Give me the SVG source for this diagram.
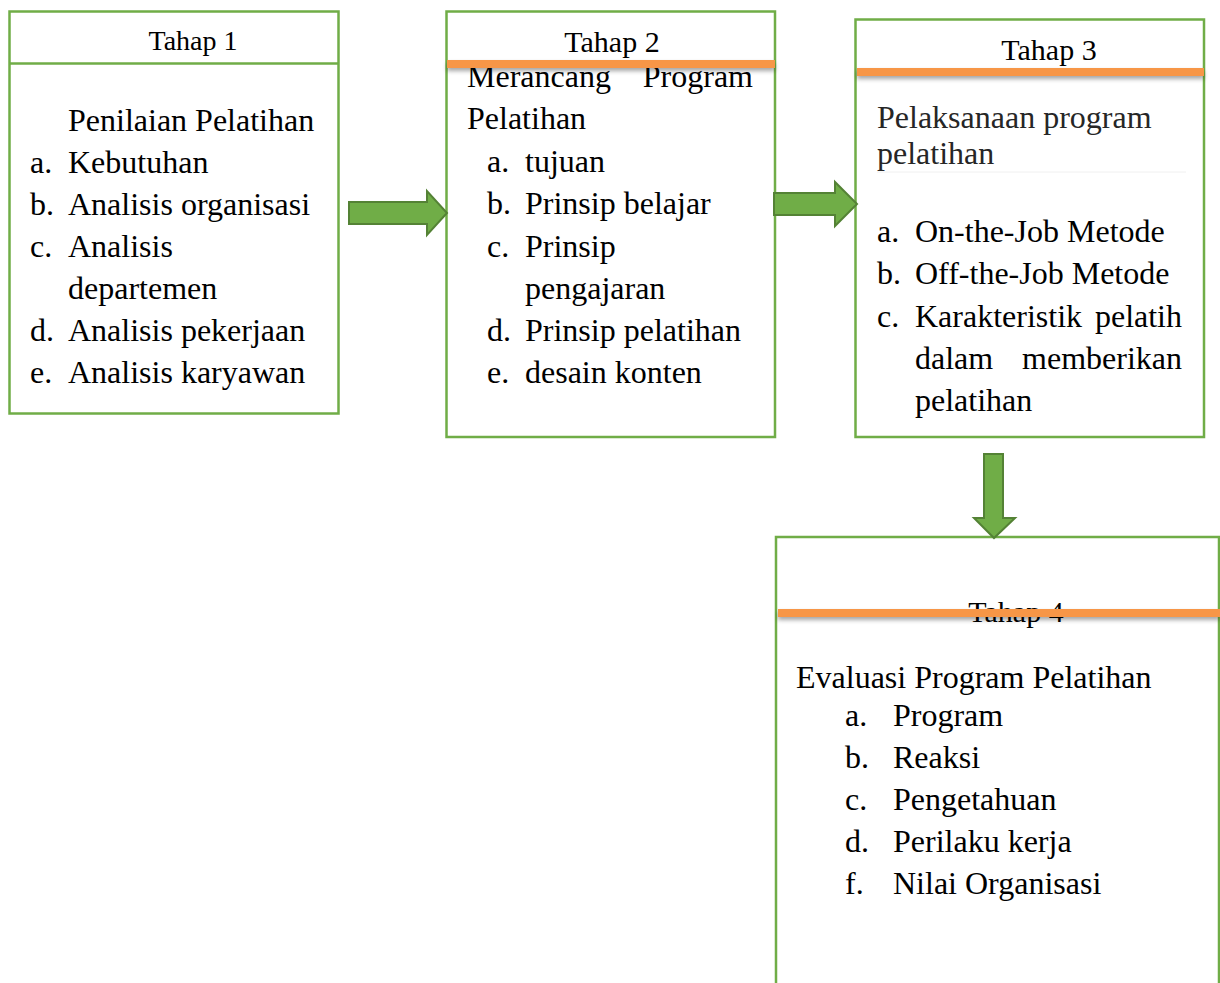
<svg xmlns="http://www.w3.org/2000/svg" width="1220" height="983" viewBox="0 0 1220 983">
<style>
.box{fill:#fff;stroke:#70AD47;stroke-width:2.5}
.hdr{stroke:#70AD47;stroke-width:2.5}
.bar{fill:#F79646}
.t{font-family:"Liberation Serif","Times New Roman",serif;font-size:32px;fill:#000}
.ttl{font-family:"Liberation Serif","Times New Roman",serif;font-size:30px;fill:#000;text-anchor:middle}
.gray{fill:#262626}
.arr{fill:#70AD47;stroke:#548235;stroke-width:2;stroke-linejoin:miter}
</style>
<defs>
<filter id="sh" x="-5%" y="-100%" width="110%" height="400%">
<feDropShadow dx="0" dy="3" stdDeviation="2" flood-color="#000" flood-opacity="0.35"/>
</filter>
</defs>
<rect width="1220" height="983" fill="#fff"/>

<g id="tahap1">
<rect class="box" x="9.5" y="11.5" width="329" height="402"/>
<line class="hdr" x1="9.5" y1="63.5" x2="338.5" y2="63.5"/>
<text class="ttl" x="193" y="50" style="font-size:28px">Tahap 1</text>
<text class="t" x="68" y="131">Penilaian Pelatihan</text>
<text class="t" x="30" y="173">a.</text><text class="t" x="68" y="173">Kebutuhan</text>
<text class="t" x="30" y="215">b.</text><text class="t" x="68" y="215">Analisis organisasi</text>
<text class="t" x="30" y="257">c.</text><text class="t" x="68" y="257">Analisis</text>
<text class="t" x="68" y="299">departemen</text>
<text class="t" x="30" y="341">d.</text><text class="t" x="68" y="341">Analisis pekerjaan</text>
<text class="t" x="30" y="383">e.</text><text class="t" x="68" y="383">Analisis karyawan</text>
</g>

<g id="tahap2">
<rect class="box" x="446.5" y="11.5" width="328.5" height="425.5"/>
<text class="ttl" x="612" y="52">Tahap 2</text>
<text class="t" x="467" y="87">Merancang</text>
<text class="t" x="753" y="87" text-anchor="end">Program</text>
<rect class="bar" x="447" y="60" width="328" height="8" filter="url(#sh)"/>
<text class="t" x="467" y="129">Pelatihan</text>
<text class="t" x="487" y="172">a.</text><text class="t" x="525" y="172">tujuan</text>
<text class="t" x="487" y="214">b.</text><text class="t" x="525" y="214">Prinsip belajar</text>
<text class="t" x="487" y="257">c.</text><text class="t" x="525" y="257">Prinsip</text>
<text class="t" x="525" y="299">pengajaran</text>
<text class="t" x="487" y="341">d.</text><text class="t" x="525" y="341">Prinsip pelatihan</text>
<text class="t" x="487" y="383">e.</text><text class="t" x="525" y="383">desain konten</text>
</g>

<g id="tahap3">
<rect class="box" x="855.5" y="19.5" width="348.5" height="417.5"/>
<text class="ttl" x="1049" y="60">Tahap 3</text>
<rect class="bar" x="857" y="68" width="347" height="8" filter="url(#sh)"/>
<text class="t gray" x="877" y="128">Pelaksanaan program</text>
<text class="t gray" x="877" y="164">pelatihan</text>
<line x1="877" y1="172" x2="1186" y2="172" stroke="#f0f0f0" stroke-width="1"/>
<text class="t" x="877" y="242">a.</text><text class="t" x="915" y="242">On-the-Job Metode</text>
<text class="t" x="877" y="284">b.</text><text class="t" x="915" y="284">Off-the-Job Metode</text>
<text class="t" x="877" y="327">c.</text><text class="t" x="915" y="327">Karakteristik</text>
<text class="t" x="1182" y="327" text-anchor="end">pelatih</text>
<text class="t" x="915" y="369">dalam</text>
<text class="t" x="1182" y="369" text-anchor="end">memberikan</text>
<text class="t" x="915" y="411">pelatihan</text>
</g>

<g id="tahap4">
<rect class="box" x="776" y="537" width="443" height="470"/>
<text class="ttl" x="1016" y="622">Tahap 4</text>
<rect class="bar" x="778" y="609" width="442" height="8" filter="url(#sh)"/>
<text class="t" x="796" y="688">Evaluasi Program Pelatihan</text>
<text class="t" x="845" y="726">a.</text><text class="t" x="893" y="726">Program</text>
<text class="t" x="845" y="768">b.</text><text class="t" x="893" y="768">Reaksi</text>
<text class="t" x="845" y="810">c.</text><text class="t" x="893" y="810">Pengetahuan</text>
<text class="t" x="845" y="852">d.</text><text class="t" x="893" y="852">Perilaku kerja</text>
<text class="t" x="845" y="894">f.</text><text class="t" x="893" y="894">Nilai Organisasi</text>
</g>

<g id="connectors">
<path class="arr" d="M349,202 L427,202 L427,191 L447,213 L427,235 L427,224 L349,224 Z"/>
<path class="arr" d="M774,193 L835,193 L835,182 L857,204 L835,226 L835,215 L774,215 Z"/>
<path class="arr" d="M984,454 L1003,454 L1003,518 L1015,518 L994,538 L974,518 L984,518 Z"/>
</g>
</svg>
